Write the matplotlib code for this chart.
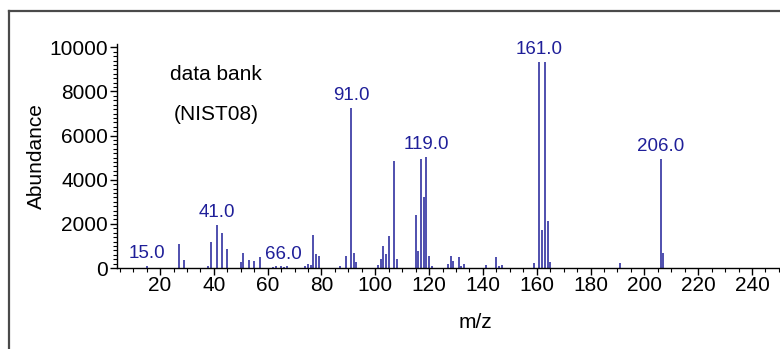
import matplotlib
matplotlib.use("Agg")
import matplotlib.pyplot as plt
from matplotlib.lines import Line2D
from matplotlib.ticker import MultipleLocator

plt.rcParams['font.family'] = ['Liberation Sans', 'DejaVu Sans']

# Mass spectrum (m/z vs. abundance)
mz = [15, 27, 29, 38, 39, 41, 43, 45, 50, 51, 53, 55, 57,
      62, 63, 65, 66, 67, 74, 75, 76, 77, 78, 79,
      87, 89, 91, 92, 93, 101, 102, 103, 104, 105, 107, 108,
      115, 116, 117, 118, 119, 120, 121, 127, 128, 129, 131, 132, 133,
      141, 145, 146, 147, 159, 161, 162, 163, 164, 165, 191, 206, 207]
abundance = [100, 1070, 360, 100, 1190, 1950, 1570, 850, 270, 690, 340, 300, 480,
             50, 70, 90, 60, 70, 80, 180, 150, 1500, 620, 560,
             100, 560, 7250, 700, 280, 130, 390, 980, 630, 1440, 4870, 390,
             2400, 770, 4940, 3200, 5020, 550, 100, 180, 550, 330, 480, 100, 180,
             130, 480, 100, 120, 210, 9330, 1720, 9330, 2140, 270, 210, 4920, 700]

labeled_mz = [15, 41, 66, 91, 119, 161, 206]
label_text = ["15.0", "41.0", "66.0", "91.0", "119.0", "161.0", "206.0"]

W, H = 780, 349
fig = plt.figure(figsize=(W / 100, H / 100), dpi=100)
fig.patch.set_facecolor('white')

# panel border (left and top edges)
fig.add_artist(Line2D([9 / W, 9 / W], [0, 1 - 11 / H], transform=fig.transFigure,
                      color='#4a4a4a', lw=1.6))
fig.add_artist(Line2D([9 / W, 1], [1 - 11 / H, 1 - 11 / H], transform=fig.transFigure,
                      color='#4a4a4a', lw=1.6))

ax_left, ax_right = 117, 780
ax_bottom, ax_top = 268, 44
ax = fig.add_axes([ax_left / W, 1 - ax_bottom / H,
                   (ax_right - ax_left) / W, (ax_bottom - ax_top) / H])

peak_color = '#1f1f99'
ax.vlines(mz, 0, abundance, colors=peak_color, lw=1.1)

lookup = dict(zip(mz, abundance))
for m, t in zip(labeled_mz, label_text):
    ax.annotate(t, (m, lookup.get(m, 0)), xytext=(0, 3), textcoords='offset points',
                ha='center', va='bottom', color=peak_color, fontsize=13.5)

ax.set_xlim(4, 250.4)
ax.set_ylim(0, 10150)
ax.xaxis.set_major_locator(MultipleLocator(20))
ax.xaxis.set_minor_locator(MultipleLocator(5))
ax.yaxis.set_major_locator(MultipleLocator(2000))
ax.yaxis.set_minor_locator(MultipleLocator(200))
ax.set_xticks([x for x in range(20, 250, 20)])

for s in ('top', 'right'):
    ax.spines[s].set_visible(False)
for s in ('left', 'bottom'):
    ax.spines[s].set_linewidth(1.0)
    ax.spines[s].set_color('black')

ax.tick_params(which='major', direction='out', length=5, width=1.0, labelsize=15)
ax.tick_params(axis='x', which='major', pad=1)
ax.tick_params(axis='y', which='major', pad=1.5)
ax.tick_params(which='minor', direction='out', length=3, width=0.8)

ax.set_xlabel('m/z', fontsize=15)
ax.set_ylabel('Abundance', fontsize=15)
ax.xaxis.set_label_coords((475 - ax_left) / (ax_right - ax_left), -0.2)
ax.yaxis.set_label_coords((46 - ax_left) / (ax_right - ax_left), 0.5)

fig.text(216 / W, 1 - 75 / H, 'data bank', ha='center', va='center', fontsize=15)
fig.text(216 / W, 1 - 115 / H, '(NIST08)', ha='center', va='center', fontsize=15)

fig.savefig('out.png', dpi=100)
